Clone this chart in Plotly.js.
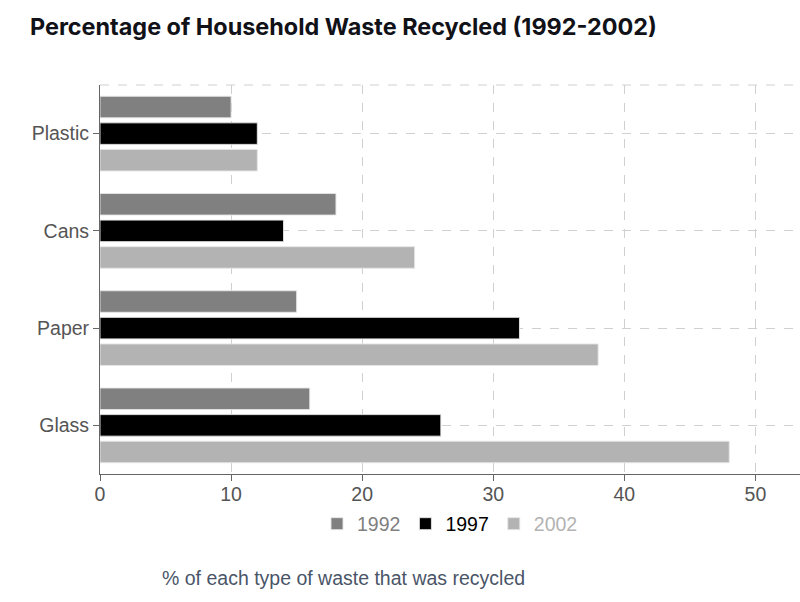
<!DOCTYPE html>
<html>
<head>
<meta charset="utf-8">
<script src="https://cdn.plot.ly/plotly-3.0.1.min.js"></script>
<style>html,body{margin:0;padding:0;background:#fff;}#chart{width:800px;height:602px;}</style>
</head>
<body>
<div id="chart"></div>
<script>
const categories = ["Plastic", "Cans", "Paper", "Glass"];
const years = ["1992", "1997", "2002"];
const values1992 = [10, 18, 15, 16];
const values1997 = [12, 14, 32, 26];
const values2002 = [12, 24, 38, 48];
const seriesValues = [values1992, values1997, values2002];
const colors = ["#808080", "#000000", "#b3b3b3"];

const traces = years.map((yr, i) => ({
  type: "bar",
  orientation: "h",
  name: '<span style="color:' + colors[i] + '">' + yr + '</span>',
  y: categories,
  x: seriesValues[i],
  marker: { color: colors[i], line: { color: "rgba(230,230,230,0.9)", width: 1 } },
  hoverinfo: "x+y"
}));

const font = "Liberation Sans, Arial, Helvetica, sans-serif";
const fs = 19.5;
const layout = {
  width: 800, height: 602,
  margin: { l: 100, r: 0, t: 85, b: 128 },
  paper_bgcolor: "#fff", plot_bgcolor: "#fff",
  font: { family: font, size: fs, color: "#555" },
  title: {
    text: "<b>Percentage of Household Waste Recycled (1992-2002)</b>",
    font: { family: "Inter, Liberation Sans, Arial, sans-serif", size: 23.4, color: "#111118" },
    xref: "container", x: 30 / 800, xanchor: "left",
    yref: "container", y: 1 - 27 / 602, yanchor: "middle"
  },
  barmode: "group",
  bargap: 0.18,
  bargroupgap: 0.19,
  xaxis: {
    range: [0, 53.4],
    dtick: 10,
    showgrid: true, gridcolor: "#d0d0d0", griddash: "dash", gridwidth: 1,
    showline: true, linecolor: "#666", linewidth: 1,
    ticks: "outside", ticklen: 6, tickcolor: "#666",
    ticklabelstandoff: -3,
    zeroline: false,
    tickfont: { size: fs, color: "#555" },
    fixedrange: true
  },
  yaxis: {
    type: "category",
    categoryorder: "array", categoryarray: categories,
    autorange: "reversed",
    showgrid: true, gridcolor: "#d0d0d0", griddash: "dash", gridwidth: 1,
    showline: true, linecolor: "#666", linewidth: 1,
    ticks: "outside", ticklen: 6, tickcolor: "#666",
    tickfont: { size: fs, color: "#555" },
    fixedrange: true
  },
  legend: {
    orientation: "h",
    xref: "paper", x: 0.5, xanchor: "center",
    yref: "container", y: 1 - 524 / 602, yanchor: "middle",
    font: { size: fs },
    traceorder: "normal",
    itemwidth: 30,
    itemclick: false, itemdoubleclick: false
  },
  shapes: [{
    type: "line", xref: "paper", yref: "paper",
    x0: 0, x1: 1, y0: 1, y1: 1,
    line: { color: "#d0d0d0", width: 1, dash: "dash" }
  }],
  annotations: [{
    text: "% of each type of waste that was recycled",
    xref: "paper", yref: "paper",
    x: (343 - 100) / 700, y: (474 - 578) / 389,
    xanchor: "center", yanchor: "middle",
    showarrow: false,
    font: { family: font, size: 19.5, color: "#4a5568" }
  }]
};

Plotly.newPlot("chart", traces, layout, { displayModeBar: false });
</script>
</body>
</html>
